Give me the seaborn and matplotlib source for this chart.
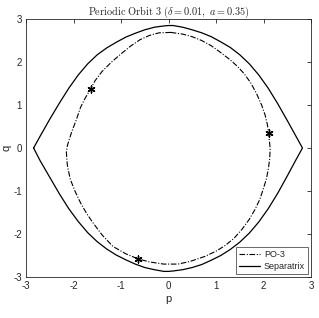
import numpy as np
import pandas as pd
import matplotlib
matplotlib.use('Agg')
import matplotlib.pyplot as plt
import seaborn as sns

# separatrix (upper arc left->right, then lower arc right->left)
sep_p = [-2.84, -2.7, -2.5, -2.3, -2.1, -1.9, -1.7, -1.5, -1.3, -1.1, -0.9, -0.7, -0.5, -0.3, -0.1, 0.0,
         0.1, 0.3, 0.5, 0.7, 0.9, 1.1, 1.3, 1.5, 1.7, 1.9, 2.1, 2.3, 2.5, 2.68, 2.82,
         2.68, 2.5, 2.3, 2.1, 1.9, 1.7, 1.5, 1.3, 1.1, 0.9, 0.7, 0.5, 0.3, 0.1, 0.0,
         -0.1, -0.3, -0.5, -0.7, -0.9, -1.1, -1.3, -1.5, -1.7, -1.9, -2.1, -2.3, -2.5, -2.7, -2.84]
sep_q = [0.0, 0.28, 0.67, 1.04, 1.39, 1.7, 1.96, 2.17, 2.33, 2.46, 2.58, 2.67, 2.75, 2.81, 2.84, 2.85,
         2.85, 2.81, 2.75, 2.68, 2.59, 2.47, 2.34, 2.17, 1.96, 1.7, 1.39, 1.03, 0.64, 0.28, 0.0,
         -0.28, -0.65, -1.05, -1.41, -1.72, -1.98, -2.19, -2.36, -2.5, -2.61, -2.71, -2.78, -2.83, -2.86, -2.87,
         -2.87, -2.83, -2.78, -2.7, -2.6, -2.49, -2.35, -2.18, -1.97, -1.71, -1.41, -1.06, -0.68, -0.3, 0.0]

# periodic orbit PO-3
po_p = [0.05, -0.2, -0.4, -0.6, -0.8, -1.0, -1.2, -1.4, -1.55, -1.64, -1.75, -1.85, -1.94, -2.03, -2.09, -2.13,
        -2.15, -2.13, -2.07, -1.97, -1.85, -1.72, -1.59, -1.4, -1.17, -0.9, -0.64, -0.4, -0.1, 0.2,
        0.45, 0.77, 1.0, 1.19, 1.38, 1.54, 1.7, 1.82, 1.92, 1.99, 2.06, 2.1, 2.13, 2.14, 2.12, 2.11,
        2.08, 2.03, 1.96, 1.86, 1.74, 1.6, 1.45, 1.3, 1.1, 0.9, 0.7, 0.5, 0.3, 0.05]
po_q = [2.69, 2.68, 2.62, 2.52, 2.37, 2.19, 2.0, 1.78, 1.56, 1.37, 1.17, 0.95, 0.66, 0.4, 0.2, 0.05,
        -0.1, -0.4, -0.72, -1.0, -1.28, -1.53, -1.74, -2.02, -2.29, -2.46, -2.58, -2.65, -2.7, -2.7,
        -2.64, -2.52, -2.4, -2.27, -2.1, -1.9, -1.66, -1.43, -1.2, -0.97, -0.72, -0.5, -0.25, 0.0, 0.2, 0.35,
        0.55, 0.78, 1.0, 1.25, 1.5, 1.72, 1.9, 2.05, 2.22, 2.38, 2.5, 2.59, 2.65, 2.69]

# the three points of the orbit
star_p = [-1.64, 2.11, -0.64]
star_q = [1.37, 0.35, -2.58]

sns.set_style('white')
plt.rcParams['font.family'] = ['Liberation Sans', 'DejaVu Sans']
plt.rcParams['mathtext.fontset'] = 'cm'
plt.rcParams['axes.unicode_minus'] = False

fig = plt.figure(figsize=(3.19, 3.18), dpi=100)
ax = fig.add_axes([0.0815, 0.129, 0.8935, 0.811])

po_df = pd.DataFrame({'p': po_p, 'q': po_q})
sep_df = pd.DataFrame({'p': sep_p, 'q': sep_q})

sns.lineplot(data=po_df, x='p', y='q', sort=False, estimator=None, color='black',
             linewidth=0.8, linestyle=(0, (5, 1.5, 1, 1.5)), label='PO-3', ax=ax)
sns.lineplot(data=sep_df, x='p', y='q', sort=False, estimator=None, color='black',
             linewidth=0.9, label='Separatrix', ax=ax)
sns.scatterplot(x=star_p, y=star_q, marker=(6, 2, 0), s=25, color='black',
                linewidth=1.0, ax=ax, zorder=5)

ax.set_xlim(-3, 3)
ax.set_ylim(-3, 3)
ax.set_xticks([-3, -2, -1, 0, 1, 2, 3])
ax.set_yticks([-3, -2, -1, 0, 1, 2, 3])
ax.tick_params(direction='in', length=3, width=0.6, labelsize=7, top=True, right=True,
               colors='#262626', pad=3)
for s in ax.spines.values():
    s.set_linewidth(0.6)
    s.set_color('#262626')
ax.set_xlabel('p', fontsize=8, labelpad=2)
ax.set_ylabel('q', fontsize=8, labelpad=1)
ax.set_title(r'$\mathrm{Periodic\ Orbit\ 3\ (}\delta = 0.01,\ a = 0.35\mathrm{)}$', fontsize=7.4,
             pad=3)

leg = ax.legend(loc='lower right', fontsize=6.5, frameon=True, fancybox=False,
                borderaxespad=0.3, handlelength=2.3, borderpad=0.35, labelspacing=0.3,
                handletextpad=0.5)
leg.get_frame().set_edgecolor('#262626')
leg.get_frame().set_linewidth(0.6)

fig.savefig('out.png', dpi=100)
